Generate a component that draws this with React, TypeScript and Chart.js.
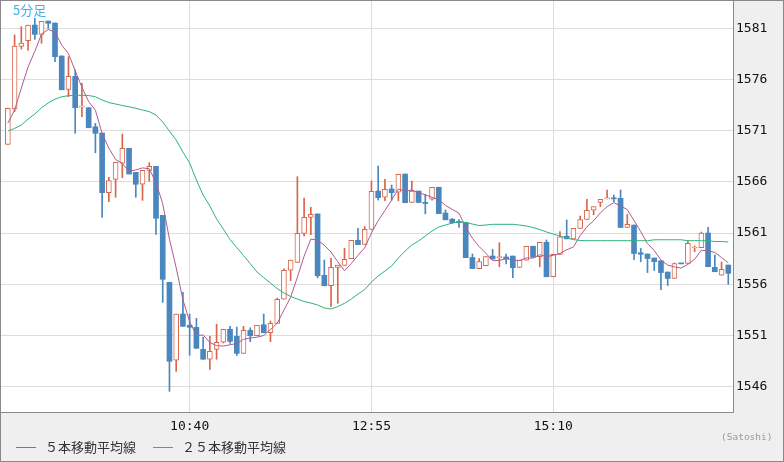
import React, { useEffect, useRef } from 'react';
import { Chart, registerables } from 'chart.js';

Chart.register(...registerables);

// ---- data (5-minute candles) ----
const opens = [
  1569.67, 1573.12, 1579.24, 1579.79, 1581.32, 1580.41, 1581.71, 1581.52, 1578.3, 1575.04,
  1576.31, 1573.3, 1573.25, 1571.39, 1570.78, 1564.95, 1566.25, 1567.82, 1569.28, 1566.94,
  1565.77, 1567.13, 1567.52, 1562.74, 1556.2, 1548.58, 1553.1, 1552.0, 1551.8, 1549.65,
  1548.68, 1549.65, 1550.34, 1551.61, 1550.92, 1549.26, 1551.51, 1550.98, 1552.05, 1551.27,
  1552.19, 1554.54, 1557.37, 1558.15, 1560.98, 1562.54, 1562.87, 1556.88, 1555.88, 1557.66,
  1557.84, 1558.5, 1560.3, 1559.89, 1561.37, 1565.11, 1564.51, 1565.31, 1565.0, 1566.77,
  1564.01, 1565.11, 1564.01, 1564.31, 1565.48, 1562.96, 1562.36, 1562.13, 1562.05, 1558.62,
  1557.54, 1557.82, 1558.76, 1558.6, 1558.67, 1558.76, 1557.64, 1558.35, 1559.72, 1558.71,
  1560.11, 1556.74, 1558.93, 1560.7, 1560.44, 1561.47, 1562.33, 1563.23, 1564.01, 1564.35,
  1564.45, 1564.4, 1561.55, 1561.79, 1559.08, 1558.96, 1558.57, 1558.3, 1557.2, 1556.57,
  1558.05, 1558.03, 1559.55, 1559.57, 1561.01, 1557.66, 1556.89, 1557.88,
];
const highs = [
  1573.2, 1580.35, 1581.16, 1581.32, 1581.98, 1581.68, 1581.71, 1581.52, 1578.3, 1578.23,
  1576.93, 1575.63, 1573.25, 1571.72, 1570.78, 1566.45, 1567.91, 1570.68, 1569.28, 1566.94,
  1567.13, 1567.87, 1567.52, 1562.74, 1556.2, 1553.1, 1555.22, 1553.1, 1552.68, 1550.85,
  1550.92, 1552.1, 1551.61, 1551.9, 1551.83, 1551.9, 1551.76, 1552.0, 1553.1, 1552.42,
  1554.66, 1557.52, 1558.37, 1566.51, 1564.43, 1563.52, 1562.87, 1558.37, 1558.55, 1557.87,
  1559.52, 1560.3, 1561.47, 1561.64, 1566.09, 1567.55, 1566.26, 1565.7, 1566.75, 1566.77,
  1566.09, 1565.11, 1564.79, 1565.47, 1565.48, 1563.26, 1562.43, 1562.33, 1562.05, 1558.96,
  1558.52, 1558.71, 1559.42, 1560.06, 1558.96, 1558.76, 1558.35, 1559.72, 1559.72, 1560.1,
  1560.33, 1558.94, 1561.16, 1562.28, 1561.47, 1562.67, 1564.31, 1563.58, 1564.3, 1565.21,
  1564.72, 1565.21, 1562.82, 1561.79, 1559.5, 1558.96, 1558.57, 1558.3, 1557.2, 1558.08,
  1558.05, 1560.23, 1559.74, 1561.1, 1561.57, 1558.86, 1558.18, 1557.88,
];
const lows = [
  1569.67, 1572.86, 1578.98, 1578.88, 1579.93, 1579.54, 1581.0, 1577.74, 1575.0, 1574.32,
  1570.75, 1572.37, 1571.29, 1568.85, 1562.54, 1564.07, 1564.5, 1566.41, 1566.77, 1564.5,
  1564.2, 1566.06, 1560.88, 1554.24, 1545.55, 1547.5, 1551.9, 1549.07, 1549.75, 1548.68,
  1547.7, 1548.68, 1550.27, 1550.24, 1549.05, 1549.26, 1550.4, 1550.98, 1551.27, 1550.4,
  1552.19, 1554.54, 1556.35, 1558.15, 1560.72, 1560.84, 1556.64, 1555.86, 1553.81, 1554.14,
  1557.84, 1558.5, 1559.87, 1559.89, 1561.37, 1564.23, 1564.18, 1564.21, 1564.16, 1563.97,
  1564.01, 1563.99, 1562.88, 1564.23, 1562.9, 1562.3, 1561.94, 1561.55, 1558.6, 1557.54,
  1557.54, 1557.82, 1558.47, 1557.72, 1557.98, 1556.64, 1557.64, 1558.35, 1558.65, 1557.72,
  1556.74, 1556.74, 1558.93, 1560.44, 1560.44, 1561.47, 1562.33, 1562.8, 1563.58, 1564.35,
  1564.07, 1561.55, 1561.55, 1558.4, 1558.21, 1557.15, 1557.35, 1555.47, 1555.88, 1556.57,
  1558.0, 1558.03, 1559.18, 1559.57, 1557.72, 1557.23, 1556.89, 1556.0,
];
const closes = [
  1573.19, 1579.27, 1579.56, 1581.32, 1580.41, 1581.68, 1581.49, 1578.23, 1575.0, 1576.31,
  1573.25, 1573.4, 1571.29, 1570.75, 1564.95, 1566.12, 1567.91, 1569.28, 1566.77, 1565.77,
  1567.13, 1567.52, 1562.45, 1556.49, 1548.48, 1553.1, 1551.9, 1551.8, 1549.75, 1548.68,
  1549.46, 1550.34, 1551.61, 1550.43, 1549.26, 1551.51, 1550.98, 1552.0, 1551.27, 1552.19,
  1554.54, 1557.37, 1558.37, 1560.98, 1562.54, 1562.84, 1556.84, 1555.86, 1557.66, 1557.87,
  1558.44, 1560.3, 1559.87, 1561.37, 1565.09, 1564.46, 1565.28, 1564.95, 1566.75, 1563.97,
  1565.11, 1563.99, 1563.89, 1565.47, 1562.9, 1562.3, 1562.02, 1562.05, 1558.6, 1557.54,
  1558.23, 1558.71, 1558.47, 1558.68, 1558.47, 1557.62, 1558.35, 1559.72, 1558.65, 1560.1,
  1556.74, 1558.94, 1560.64, 1560.44, 1561.47, 1562.33, 1563.23, 1563.58, 1564.3, 1564.45,
  1564.35, 1561.55, 1561.86, 1559.01, 1558.93, 1558.52, 1558.21, 1557.15, 1556.57, 1558.03,
  1558.0, 1560.0, 1559.63, 1561.01, 1557.72, 1557.23, 1557.47, 1557.07,
];
const ma5 = [
  1571.75, 1573.02, 1575.17, 1577.22, 1578.75, 1580.45, 1580.89, 1580.63, 1579.36, 1578.54,
  1576.86, 1575.24, 1573.85, 1573.0, 1570.73, 1569.3, 1568.2, 1567.8, 1567.01, 1567.17,
  1567.37, 1567.29, 1565.93, 1563.87, 1560.41, 1557.61, 1554.48, 1552.35, 1551.01, 1551.05,
  1550.32, 1550.01, 1549.97, 1550.1, 1550.22, 1550.63, 1550.76, 1550.84, 1551.0, 1551.59,
  1552.2, 1553.47, 1554.75, 1556.69, 1558.76, 1560.42, 1560.31, 1559.81, 1559.15, 1558.21,
  1557.33, 1558.03, 1558.83, 1559.57, 1561.01, 1562.22, 1563.21, 1564.23, 1565.31, 1565.08,
  1565.21, 1564.95, 1564.74, 1564.49, 1564.27, 1563.71, 1563.32, 1562.95, 1561.57, 1560.5,
  1559.69, 1559.03, 1558.31, 1558.33, 1558.51, 1558.39, 1558.32, 1558.57, 1558.56, 1558.89,
  1558.71, 1558.83, 1559.01, 1559.37, 1559.65, 1560.76, 1561.62, 1562.21, 1562.98, 1563.58,
  1563.98, 1563.65, 1563.3, 1562.24, 1561.14, 1559.97, 1559.31, 1558.36, 1557.88, 1557.7,
  1557.59, 1557.95, 1558.45, 1559.33, 1559.27, 1559.12, 1558.61, 1558.1,
];
const ma25 = [
  1570.97, 1571.23, 1571.56, 1572.14, 1572.63, 1573.25, 1573.71, 1574.08, 1574.32, 1574.42,
  1574.46, 1574.46, 1574.44, 1574.32, 1574.0, 1573.75, 1573.61, 1573.46, 1573.34, 1573.19,
  1573.02, 1572.87, 1572.53, 1571.85, 1570.97, 1570.09, 1568.92, 1567.85, 1566.19, 1564.72,
  1563.65, 1562.38, 1561.4, 1560.37, 1559.59, 1558.81, 1558.02, 1557.2, 1556.65, 1556.13,
  1555.58, 1555.15, 1554.81, 1554.56, 1554.32, 1554.17, 1553.98, 1553.69, 1553.59, 1553.83,
  1554.14, 1554.56, 1555.05, 1555.49, 1556.22, 1556.81, 1557.3, 1557.79, 1558.57, 1559.25,
  1559.84, 1560.23, 1560.72, 1561.2, 1561.6, 1561.79, 1561.99, 1562.08, 1562.04, 1561.89,
  1561.74, 1561.79, 1561.86, 1561.86, 1561.86, 1561.86, 1561.79, 1561.69, 1561.55, 1561.35,
  1561.11, 1560.91, 1560.72, 1560.52, 1560.37, 1560.28, 1560.26, 1560.26, 1560.26, 1560.26,
  1560.26, 1560.26, 1560.26, 1560.26, 1560.26, 1560.26, 1560.35, 1560.35, 1560.35, 1560.35,
  1560.35, 1560.26, 1560.26, 1560.26, 1560.26, 1560.18, 1560.18, 1560.13,
];
const xTickIndex = [27, 54, 81];
const xTickLabels = ['10:40', '12:55', '15:10'];
const yTicks = [1546, 1551, 1556, 1561, 1566, 1571, 1576, 1581];
const titleText = '5分足';
const ma5Label = '５本移動平均線';
const ma25Label = '２５本移動平均線';
const sourceText = '(Satoshi)';

// ---- styles ----
const UP = '#d9654a';
const DOWN = '#4a87be';
const MA5_COLOR = '#b15a8f';
const MA25_COLOR = '#2db37b';
const GRID = '#dddddd';
const FRAME = '#8a8a8a';
const TICK_FONT = { family: '"DejaVu Sans Mono", monospace', size: 13 };

const framePlugin = {
  id: 'frame',
  beforeDraw(chart: any) {
    const { ctx, chartArea: a, width, height } = chart;
    ctx.save();
    ctx.fillStyle = '#efefef';
    ctx.fillRect(0, 0, width, height);
    ctx.fillStyle = '#ffffff';
    ctx.fillRect(a.left, a.top, a.right - a.left, a.bottom - a.top);
    ctx.restore();
  },
  afterDraw(chart: any) {
    const { ctx, chartArea: a, width, height } = chart;
    ctx.save();
    ctx.strokeStyle = FRAME;
    ctx.lineWidth = 1;
    ctx.strokeRect(0.5, 0.5, width - 1, height - 1);
    ctx.beginPath();
    ctx.moveTo(a.right + 0.5, 0);
    ctx.lineTo(a.right + 0.5, a.bottom + 0.5);
    ctx.lineTo(0, a.bottom + 0.5);
    ctx.stroke();

    ctx.textBaseline = 'middle';
    ctx.textAlign = 'left';
    ctx.font = '13px "Noto Sans CJK JP"';
    ctx.fillStyle = '#3eb2ea';
    ctx.fillText(titleText, 13, 10);

    const items = [
      { x: 16, text: ma5Label, color: MA5_COLOR },
      { x: 153, text: ma25Label, color: MA25_COLOR },
    ];
    const ly = 447.5;
    items.forEach((it) => {
      ctx.strokeStyle = it.color;
      ctx.beginPath();
      ctx.moveTo(it.x, ly);
      ctx.lineTo(it.x + 20, ly);
      ctx.stroke();
      ctx.fillStyle = '#333333';
      ctx.font = '13px "Noto Sans CJK JP"';
      ctx.fillText(it.text, it.x + 29, ly);
    });

    ctx.font = '9.5px "DejaVu Sans Mono", monospace';
    ctx.fillStyle = '#999999';
    ctx.fillText(sourceText, 721, 437.5);
    ctx.restore();
  },
};

export default function App() {
  const ref = useRef<HTMLCanvasElement | null>(null);

  useEffect(() => {
    if (!ref.current) return;
    const isUp = opens.map((o, i) => closes[i] >= o);
    const chart = new Chart(ref.current, {
      type: 'bar',
      data: {
        datasets: [
          {
            type: 'line',
            label: ma25Label,
            data: ma25.map((v, i) => ({ x: i, y: v })),
            borderColor: MA25_COLOR,
            borderWidth: 1,
            pointRadius: 0,
            tension: 0,
            order: 0,
          } as any,
          {
            type: 'line',
            label: ma5Label,
            data: ma5.map((v, i) => ({ x: i, y: v })),
            borderColor: MA5_COLOR,
            borderWidth: 1,
            pointRadius: 0,
            tension: 0,
            order: 1,
          } as any,
          {
            type: 'bar',
            label: 'body',
            data: opens.map((o, i) => ({ x: i, y: [o, closes[i]] })),
            backgroundColor: isUp.map((u) => (u ? '#ffffff' : DOWN)),
            borderColor: isUp.map((u) => (u ? UP : DOWN)),
            borderWidth: isUp.map((u) => (u ? 1 : 0)),
            borderSkipped: false,
            barThickness: 5,
            minBarLength: 1,
            grouped: false,
            order: 2,
          } as any,
          {
            type: 'bar',
            label: 'wick',
            data: highs.map((h, i) => ({ x: i, y: [lows[i], h] })),
            backgroundColor: isUp.map((u) => (u ? UP : DOWN)),
            borderWidth: 0,
            barThickness: 1,
            grouped: false,
            order: 3,
          } as any,
        ],
      },
      options: {
        responsive: false,
        animation: false,
        devicePixelRatio: 1,
        layout: { padding: { left: 1, top: 1, right: 0, bottom: 0 }, autoPadding: false },
        plugins: {
          legend: { display: false },
          tooltip: { enabled: false },
        },
        scales: {
          x: {
            type: 'linear',
            min: -1.02,
            max: 107.7,
            offset: false,
            grid: { color: GRID, drawTicks: false, offset: false },
            border: { display: false },
            ticks: {
              autoSkip: false,
              maxRotation: 0,
              padding: 7,
              color: '#111111',
              font: TICK_FONT,
              callback: (v: any) => {
                const k = xTickIndex.indexOf(Number(v));
                return k >= 0 ? xTickLabels[k] : '';
              },
            },
            afterBuildTicks: (s: any) => {
              s.ticks = xTickIndex.map((v) => ({ value: v }));
            },
            afterFit: (s: any) => {
              s.height = 50;
              s.paddingLeft = 0;
              s.paddingRight = 0;
            },
          },
          y: {
            type: 'linear',
            position: 'right',
            min: 1543.53,
            max: 1583.67,
            grid: { color: GRID, drawTicks: false },
            border: { display: false },
            ticks: {
              padding: 3,
              color: '#111111',
              font: TICK_FONT,
              callback: (v: any) => String(v),
            },
            afterBuildTicks: (s: any) => {
              s.ticks = yTicks.map((v) => ({ value: v }));
            },
            afterFit: (s: any) => {
              s.width = 51;
              s.paddingTop = 0;
              s.paddingBottom = 0;
            },
          },
        },
      } as any,
      plugins: [framePlugin],
    });
    return () => chart.destroy();
  }, []);

  return (
    <div style={{ position: 'absolute', left: 0, top: 0, width: 784, height: 462 }}>
      <canvas ref={ref} width={784} height={462} style={{ display: 'block' }} />
    </div>
  );
}
